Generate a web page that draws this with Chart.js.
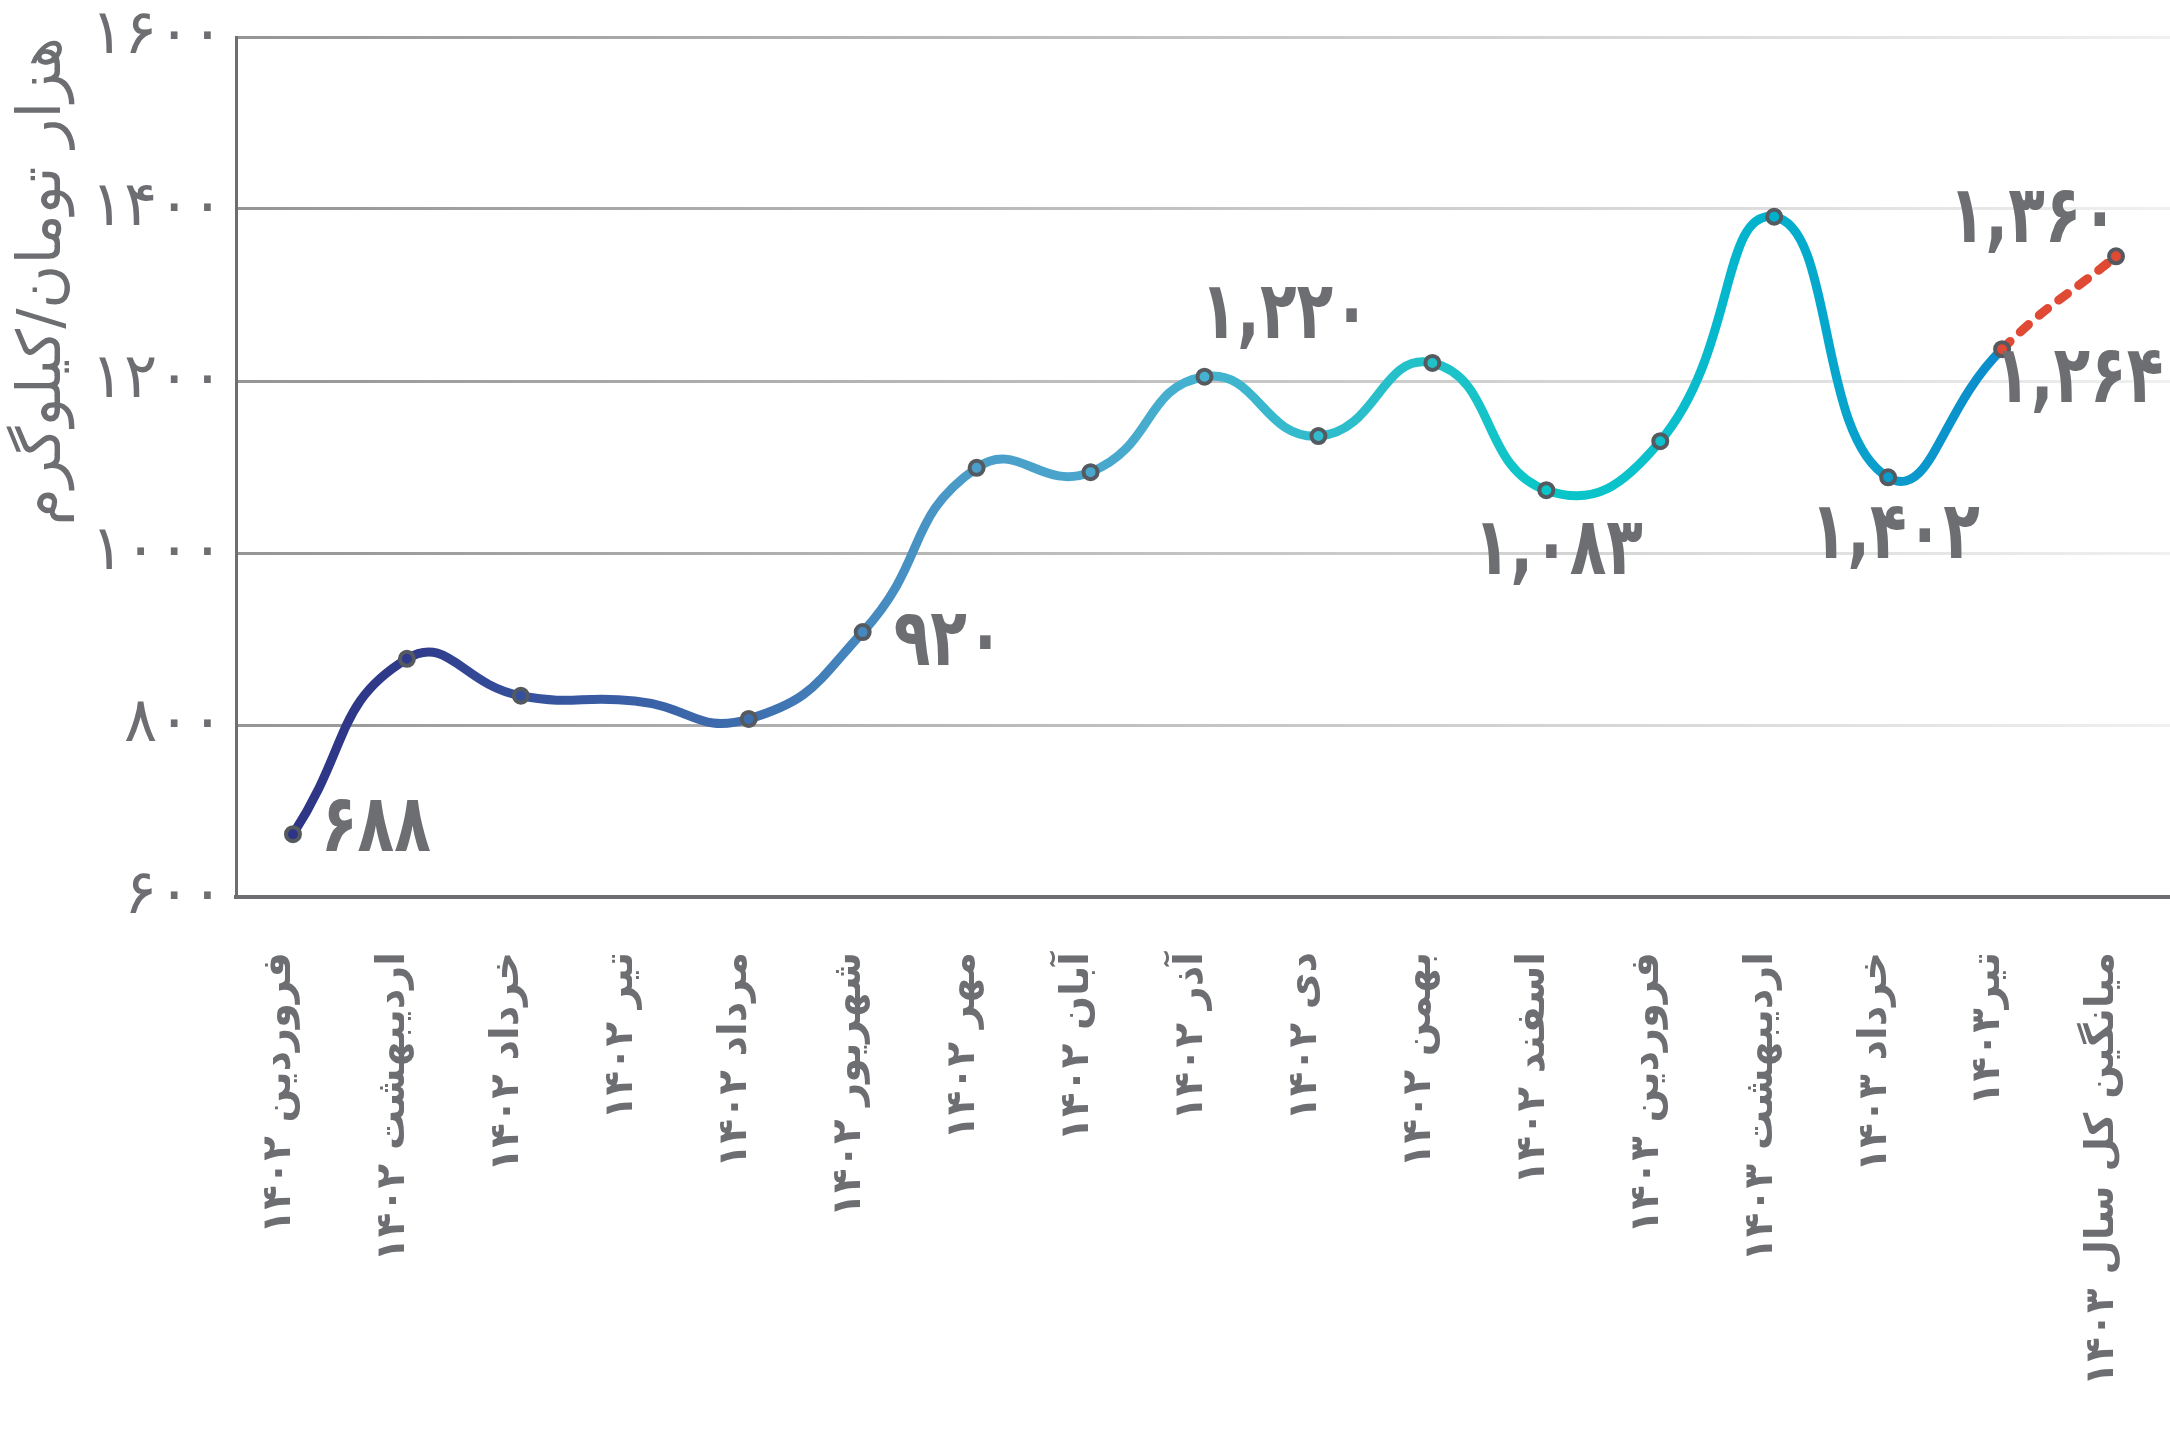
<!DOCTYPE html>
<html>
<head>
<meta charset="utf-8">
<script src="https://cdn.jsdelivr.net/npm/chart.js@4.4.1/dist/chart.umd.min.js"></script>
<style>
  html, body { margin: 0; padding: 0; background: #fff; overflow: hidden; }
  canvas { display: block; }
</style>
</head>
<body>
<!-- a little wider than the window: the plot runs off the right edge like the original -->
<canvas id="priceChart" width="2184" height="1434"></canvas>
<script>
// data
const months = [
  'فروردین ۱۴۰۲', 'اردیبهشت ۱۴۰۲', 'خرداد ۱۴۰۲', 'تیر ۱۴۰۲', 'مرداد ۱۴۰۲',
  'شهریور ۱۴۰۲', 'مهر ۱۴۰۲', 'آبان ۱۴۰۲', 'آذر ۱۴۰۲', 'دی ۱۴۰۲', 'بهمن ۱۴۰۲',
  'اسفند ۱۴۰۲', 'فروردین ۱۴۰۳', 'اردیبهشت ۱۴۰۳', 'خرداد ۱۴۰۳', 'تیر۱۴۰۳',
  'میانگین کل سال ۱۴۰۳'
];
const prices = [673, 877, 834, 828, 807, 908, 1099, 1094, 1205, 1136, 1221, 1073, 1130, 1391, 1088, 1237, 1345];
const yTicks = [600, 800, 1000, 1200, 1400, 1600];
const yTitle = 'هزار تومان/کیلوگرم';

// printed value labels and the point each one sits next to
const labelValues = [688, 920, 1220, 1083, 1402, 1264, 1360];
const labelPoints = [0, 5, 8, 11, 14, 15, 16];

// styles
const grey = '#6d6e71';
const red = '#e04a35';
const lineColors = ['#2e3586', '#2f3a8a', '#35509c', '#3a60a6', '#3e6eae', '#4588bf',
  '#4a9ec9', '#49a6cc', '#44b2d0', '#30bccc', '#20c2c8', '#08c6c8', '#0cc0cc',
  '#00b0cc', '#0c9ccc', '#0a8ccc'];
const pointFills = lineColors.slice(0, 15).concat([red, red]);
// [align, dx, dy] for each printed label
const labelPlace = [
  ['left', 28, -4], ['left', 31, 12], ['left', -4, -59], ['center', 12, 63],
  ['center', 7, 60], ['left', -8, 32], ['right', 2, -35]
];

const faDigits = '۰۱۲۳۴۵۶۷۸۹';
const toFa = (n, sep) => {
  let s = String(n);
  if (sep) s = s.replace(/\B(?=(\d{3})+(?!\d))/g, ',');
  return s.replace(/\d/g, d => faDigits[d]);
};

let lineGrad = null;
const getLineGrad = chart => {
  const { chartArea, ctx } = chart;
  if (!chartArea) return lineColors[0];
  if (lineGrad) return lineGrad;
  lineGrad = ctx.createLinearGradient(chartArea.left, 0, chartArea.right, 0);
  const n = months.length;
  lineColors.forEach((c, i) => lineGrad.addColorStop((i + 0.5) / n, c));
  return lineGrad;
};

let gridGrad = null;
const getGridGrad = chart => {
  const { chartArea, ctx } = chart;
  if (!chartArea) return '#999';
  if (gridGrad) return gridGrad;
  gridGrad = ctx.createLinearGradient(chartArea.left, 0, chartArea.right, 0);
  gridGrad.addColorStop(0, '#959595');
  gridGrad.addColorStop(0.5, '#c4c4c4');
  gridGrad.addColorStop(1, '#f0f0f0');
  return gridGrad;
};

// the printed numbers use a tall narrow face, so squeeze DejaVu a bit
const valueLabels = {
  id: 'valueLabels',
  afterDatasetsDraw(chart) {
    const { ctx } = chart;
    const pts = chart.getDatasetMeta(0).data;
    const sx = 0.75;
    ctx.save();
    ctx.font = 'bold 80px "DejaVu Sans"';
    ctx.fillStyle = grey;
    ctx.textBaseline = 'middle';
    labelValues.forEach((v, i) => {
      const p = pts[labelPoints[i]];
      const [align, dx, dy] = labelPlace[i];
      ctx.save();
      ctx.translate(p.x + dx, p.y + dy);
      ctx.scale(sx, 1);
      ctx.textAlign = align;
      ctx.fillText(toFa(v, true), 0, 0);
      ctx.restore();
    });
    ctx.restore();
  }
};

new Chart(document.getElementById('priceChart'), {
  type: 'line',
  data: {
    labels: months,
    datasets: [{
      data: prices,
      borderColor: ctx => getLineGrad(ctx.chart),
      borderWidth: 9,
      borderCapStyle: 'round',
      tension: 0.5,
      fill: false,
      pointRadius: months.map((m, i) => (i === 3 ? 0 : 7)),
      pointBorderWidth: 4,
      pointBorderColor: '#555a60',
      pointBackgroundColor: pointFills,
      segment: {
        borderColor: ctx => (ctx.p1DataIndex === months.length - 1 ? red : undefined),
        borderDash: ctx => (ctx.p1DataIndex === months.length - 1 ? [11, 14] : undefined)
      }
    }]
  },
  options: {
    responsive: false,
    devicePixelRatio: 1,
    animation: false,
    layout: { padding: { top: 37, right: 0, left: 0, bottom: 0 } },
    plugins: {
      legend: { display: false },
      tooltip: { enabled: false }
    },
    scales: {
      x: {
        offset: true,
        grid: { display: false, drawTicks: false, offset: true },
        border: { display: true, color: grey, width: 4 },
        ticks: {
          autoSkip: false,
          minRotation: 90,
          maxRotation: 90,
          padding: 55,
          labelOffset: -13,
          color: grey,
          font: { family: 'DejaVu Sans', size: 40, weight: 'bold' }
        },
        afterFit: scale => {
          scale.height = 537;
          scale.paddingLeft = 0;
          scale.paddingRight = 0;
        }
      },
      y: {
        min: 600,
        max: 1600,
        afterBuildTicks: scale => { scale.ticks = yTicks.map(v => ({ value: v })); },
        grid: {
          color: ctx => getGridGrad(ctx.chart),
          lineWidth: 3,
          drawTicks: false
        },
        border: { display: true, color: grey, width: 3 },
        ticks: {
          padding: 12,
          color: grey,
          font: { family: 'DejaVu Sans', size: 62 },
          callback: v => toFa(v)
        },
        title: {
          display: true,
          text: yTitle,
          align: 'end',
          color: grey,
          padding: { top: 8, bottom: 0 },
          font: { family: 'DejaVu Sans', size: 60 }
        },
        afterFit: scale => {
          scale.width = 236;
          scale.paddingTop = 0;
          scale.paddingBottom = 0;
        }
      }
    }
  },
  plugins: [valueLabels]
});
</script>
</body>
</html>
